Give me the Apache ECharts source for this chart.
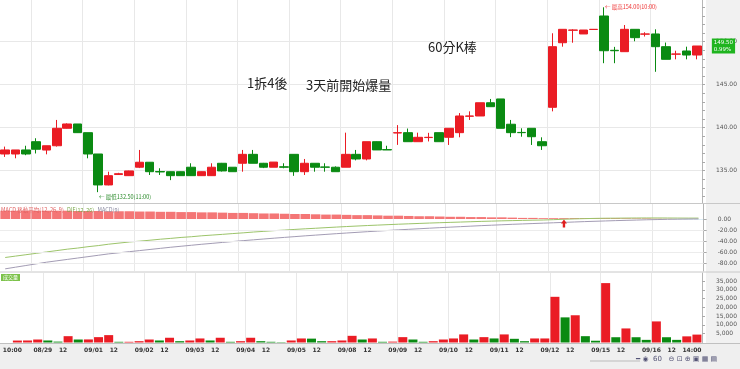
<!DOCTYPE html>
<html><head><meta charset="utf-8">
<script src="https://cdn.jsdelivr.net/npm/echarts@6/dist/echarts.min.js"></script>
<style>html,body{margin:0;padding:0;background:#fff;overflow:hidden}#c{width:740px;height:369px}</style>
</head><body><div id="c"></div><script>
// ---- data ----
const dayLabels = ['08/29','09/01','09/02','09/03','09/04','09/05','09/08','09/09','09/10','09/11','09/12','09/15','09/16'];
const noonLabel = '12';
const firstLabel = '10:00';
const lastLabel = '14:00';
const priceTicks = [135, 140, 145, 150];
const macdTicks = [0, -20, -40, -60, -80];
const volTicks = [5000, 10000, 15000, 20000, 25000, 30000, 35000];
const priceTagText = '149.50\n0.99%';

const opens  = [136.94,136.94,137.41,138.37,137.40,137.90,139.93,140.43,139.42,136.94,133.34,134.55,134.42,135.40,135.98,134.90,134.88,134.88,135.40,134.42,134.42,135.86,135.40,135.86,136.90,135.86,135.40,135.45,136.90,134.88,135.86,135.43,135.40,135.40,136.90,136.36,138.37,137.45,139.38,139.42,138.37,138.85,139.42,138.88,139.42,141.33,141.36,142.90,143.34,140.40,139.45,139.93,138.37,142.37,149.88,151.33,150.90,151.42,152.99,149.00,148.84,151.44,150.88,150.90,149.42,148.55,148.92,148.45];
const closes = [137.41,137.41,136.94,137.49,137.90,139.93,140.43,139.42,136.94,133.34,134.42,134.65,134.97,135.98,134.88,134.85,134.42,134.42,134.42,134.88,135.40,134.97,134.88,136.90,135.86,135.40,136.00,135.40,134.88,135.86,135.40,135.40,134.88,136.90,136.36,138.37,137.41,137.41,139.42,138.37,138.88,138.88,138.37,139.93,141.36,141.36,142.90,142.44,139.93,139.42,139.42,138.95,137.90,149.42,151.44,151.36,151.36,151.44,148.95,148.95,151.44,150.47,150.90,149.42,147.95,148.57,148.45,149.50];
const lows   = [136.60,136.44,136.80,137.00,136.90,137.80,139.90,139.40,136.44,132.50,133.30,134.50,134.40,135.30,134.50,134.50,133.90,134.42,134.40,134.40,134.40,134.90,134.88,134.88,135.86,135.30,135.40,135.28,134.40,134.50,134.88,134.88,134.88,135.40,136.20,136.20,137.41,137.41,138.00,138.37,138.37,138.40,138.37,137.99,138.88,140.90,141.36,142.44,139.93,138.90,138.95,137.99,137.41,141.90,149.42,149.88,150.90,151.44,147.50,147.50,148.84,150.05,150.60,146.50,147.95,147.95,147.95,147.95];
const highs  = [137.80,137.41,137.90,138.77,137.90,140.90,140.50,140.43,139.42,136.94,134.88,134.75,135.00,137.41,136.00,135.28,134.90,134.90,135.86,134.90,135.86,135.90,135.40,137.41,137.41,135.90,136.00,135.86,136.90,136.36,135.86,135.86,135.50,139.42,137.41,138.37,138.40,137.90,140.30,139.90,139.42,139.40,139.42,139.93,141.70,141.90,142.90,143.34,143.34,140.90,139.93,139.93,138.88,150.98,151.44,151.44,151.36,151.44,154.00,149.40,151.94,151.44,151.10,151.44,149.90,148.95,149.42,149.50];
const volumes = [1100,1150,1700,1150,500,3600,1700,1750,3050,4200,400,400,750,1700,1150,2700,750,1150,2300,1150,2700,400,750,2700,750,400,200,1150,2300,2200,750,750,1150,3800,1700,2300,400,500,3050,1700,400,750,1700,2300,4600,1700,3050,2300,4600,2100,750,2300,2300,26000,14300,15500,3600,1000,33800,3000,8000,3000,1500,12000,3000,1500,3500,4500];
const difs = [-69.5,-67,-64.5,-62,-59.5,-57,-54.5,-52.5,-50,-48,-45.5,-43.5,-41.5,-40,-38.3,-36.5,-35,-33.3,-32,-30.3,-29,-27.7,-26.3,-25,-23.5,-22.3,-21,-20,-18.8,-17.7,-16.7,-15.6,-14.6,-13.6,-12.7,-11.8,-11,-10.2,-9.4,-8.7,-8,-7.3,-6.7,-6.1,-5.5,-4.9,-4.3,-3.8,-3.3,-2.9,-2.5,-2.1,-1.8,-1.2,-0.4,0.2,0.7,1.1,1.4,1.5,1.7,1.8,1.9,1.9,1.8,1.7,1.6,1.6];
const deas = [-90,-87,-84,-81,-78,-75.5,-73,-70.5,-68,-65.5,-63,-61,-59,-57,-55,-53,-51,-49.2,-47.4,-45.6,-44,-42.3,-40.7,-39.1,-37.6,-36.1,-34.6,-33.2,-31.8,-30.4,-29.1,-27.8,-26.5,-25.3,-24.1,-22.9,-21.8,-20.7,-19.6,-18.6,-17.6,-16.6,-15.6,-14.7,-13.8,-12.9,-12,-11.2,-10.4,-9.6,-8.9,-8.2,-7.5,-6.8,-6.1,-5.4,-4.7,-4.1,-3.5,-2.9,-2.4,-1.9,-1.4,-1,-0.6,-0.3,0,0.2];
const oscs = [15,15,15,15,15,15,15,14.5,14.5,14.5,14,14,14,13.5,13.5,13,13,12.5,12.5,12,12,11.5,11,11,10.5,10,10,9.5,9,9,8.5,8,8,7.5,7,7,6.5,6,6,5.5,5,5,4.5,4,4,3.5,3.5,3,3,2.5,2,2,1.5,1.5,1.5,1.5,1.5,1.5,1.5,1.5,1.2,1,1,0.5,0.3,-0.3,-0.5,-0.5];

// ---- build ----
const RED = '#ea1c24', GREEN = '#0a8a12';
const N = opens.length;
const dayStarts = [];
const xLabels = new Array(N).fill('');
xLabels[0] = firstLabel;
dayLabels.forEach((d, k) => { const s = 3 + 5 * k; dayStarts.push(s); if (s < N) xLabels[s] = d; if (s + 2 < N) xLabels[s + 2] = noonLabel; });
xLabels[N - 1] = lastLabel;
const candleData = opens.map((o, i) => [o, closes[i], lows[i], highs[i]]);
const volData = volumes.map((v, i) => ({ value: v, itemStyle: { color: (i === 0 || v >= volumes[i - 1]) ? RED : GREEN } }));
const oscData = oscs.map(v => ({ value: v, itemStyle: { color: v >= 0 ? '#f47676' : '#86c3e3' } }));
const priceMinor = []; for (let p = 132; p <= 154; p++) priceMinor.push(p);
const lowIdx = lows.indexOf(Math.min(...lows));
const highIdx = highs.indexOf(Math.max(...highs));
const lastClose = closes[N - 1];

const G = { left: -4.2, right: 33.8 };
const gridLine = { color: '#e8e8e8', width: 1 };
function xAx(i, showLabel) {
  return {
    type: 'category', gridIndex: i, data: xLabels, boundaryGap: true,
    axisLine: { show: false }, axisTick: { show: false },
    axisLabel: showLabel ? {
      show: true, interval: 0, fontSize: 6, fontWeight: 'bold', color: '#333',
      fontFamily: 'DejaVu Sans', margin: 5, padding: [0, 10, 0, 0]
    } : { show: false },
    splitLine: { show: true, interval: (idx) => dayStarts.includes(idx), lineStyle: gridLine }
  };
}
const yLabel = { fontSize: 6, color: '#555', fontFamily: 'DejaVu Sans', margin: 14 };
const option = {
  animation: false,
  backgroundColor: '#ffffff',
  grid: [
    Object.assign({ top: 0, height: 203 }, G),
    Object.assign({ top: 204, height: 67 }, G),
    Object.assign({ top: 273, height: 69.5 }, G)
  ],
  xAxis: [xAx(0, false), xAx(1, false), xAx(2, true)],
  yAxis: [
    { type: 'value', gridIndex: 0, position: 'right', min: 131.24, max: 154.85, scale: true,
      axisLine: { show: true, lineStyle: { color: '#b5b5b5' } },
      axisTick: { show: true, customValues: priceMinor, length: 3, lineStyle: { color: '#aaa' } },
      axisLabel: Object.assign({ customValues: priceTicks, formatter: v => v.toFixed(2) }, yLabel),
      splitLine: { show: false } },
    { type: 'value', gridIndex: 1, position: 'right', min: -93.9, max: 27.1,
      axisLine: { show: true, lineStyle: { color: '#b5b5b5' } },
      axisTick: { show: true, customValues: macdTicks, length: 3, lineStyle: { color: '#aaa' } },
      axisLabel: Object.assign({ customValues: macdTicks, formatter: v => v.toFixed(2) }, yLabel),
      splitLine: { show: false } },
    { type: 'value', gridIndex: 2, position: 'right', min: 0, max: 39550,
      axisLine: { show: true, lineStyle: { color: '#b5b5b5' } },
      axisTick: { show: true, customValues: volTicks, length: 3, lineStyle: { color: '#aaa' } },
      axisLabel: Object.assign({ customValues: volTicks, formatter: v => v.toLocaleString('en-US') }, yLabel),
      splitLine: { show: false } }
  ],
  series: [
    { type: 'candlestick', xAxisIndex: 0, yAxisIndex: 0, data: candleData, barWidth: 9,
      itemStyle: { color: RED, color0: GREEN, borderColor: RED, borderColor0: GREEN, borderWidth: 1 },
      markLine: { silent: true, symbol: 'none', z: 0, label: { show: false },
        lineStyle: { color: '#e8e8e8', type: 'solid', width: 1 },
        data: priceTicks.map(v => ({ yAxis: v })) },
      markPoint: { silent: true, symbol: 'circle', symbolSize: 0, z: 20,
        data: [
          { coord: [highIdx, highs[highIdx]], label: { show: true, position: 'right', distance: 1, formatter: '← 最高' + highs[highIdx].toFixed(2) + '(10:00)', color: '#e33', fontSize: 5.5, fontFamily: 'Noto Sans CJK TC' } },
          { coord: [lowIdx, lows[lowIdx]], label: { show: true, position: 'right', distance: 1, offset: [0, 5], formatter: '← 最低' + lows[lowIdx].toFixed(2) + '(11:00)', color: '#2a8a2a', fontSize: 5.5, fontFamily: 'Noto Sans CJK TC' } },
          { coord: [N - 1, lastClose], label: { show: true, position: 'right', distance: 15, formatter: priceTagText,
              backgroundColor: '#1fb41f', color: '#fff', fontSize: 5.5, lineHeight: 6.5, padding: [1, 2], fontFamily: 'DejaVu Sans' } }
        ] }
    },
    { type: 'bar', xAxisIndex: 1, yAxisIndex: 1, data: oscData, barWidth: 9.6,
      markLine: { silent: true, symbol: 'none', data: macdTicks.slice(1).map(v => ({ yAxis: v })), lineStyle: { color: '#ececec', type: 'solid', width: 1 }, label: { show: false } },
      markPoint: { silent: true, data: [{ coord: [54, -8] }], symbol: 'path://M5,0 L10,5 L7,5 L7,10 L3,10 L3,5 L0,5 Z', symbolSize: [6, 8], itemStyle: { color: '#e02020' }, label: { show: false } } },
    { type: 'line', xAxisIndex: 1, yAxisIndex: 1, data: difs, symbol: 'none', lineStyle: { color: '#9cc46a', width: 1 } },
    { type: 'line', xAxisIndex: 1, yAxisIndex: 1, data: deas, symbol: 'none', lineStyle: { color: '#a39cb4', width: 1 } },
    { type: 'bar', xAxisIndex: 2, yAxisIndex: 2, data: volData, barWidth: 9 }
  ],
  graphic: [
    { type: 'rect', left: 706, top: 0, shape: { width: 34, height: 344 }, style: { fill: '#f1f1f1' }, z: -10, silent: true },
    { type: 'rect', left: 0, top: 344, shape: { width: 740, height: 25 }, style: { fill: '#efefef' }, z: -10, silent: true },
    { type: 'line', shape: { x1: 0, y1: 203.5, x2: 740, y2: 203.5 }, style: { stroke: '#c8c8c8', lineWidth: 1 }, z: 5, silent: true },
    { type: 'line', shape: { x1: 0, y1: 272, x2: 740, y2: 272 }, style: { stroke: '#c8c8c8', lineWidth: 1 }, z: 5, silent: true },
    { type: 'line', shape: { x1: 0, y1: 343.5, x2: 740, y2: 343.5 }, style: { stroke: '#c0c0c0', lineWidth: 1 }, z: 5, silent: true },
    { type: 'text', left: 247, top: 77, style: { text: '1拆4後', font: '13px "Noto Sans CJK TC"', fill: '#222' }, z: 10 },
    { type: 'text', left: 306, top: 79, style: { text: '3天前開始爆量', font: '13px "Noto Sans CJK TC"', fill: '#222' }, z: 10 },
    { type: 'text', left: 428, top: 41, style: { text: '60分K棒', font: '13px "Noto Sans CJK TC"', fill: '#222' }, z: 10 },
    { type: 'text', left: 1, top: 204, z: 10, style: { rich: { a: { fill: '#e06060', font: '5.5px "Noto Sans CJK TC"' }, b: { fill: '#7aa84a', font: '5.5px "Noto Sans CJK TC"' }, c: { fill: '#8a8aa0', font: '5.5px "Noto Sans CJK TC"' } }, text: '{a|MACD 移動平均(12, 26, 9)} {b|DIF(12, 26)} {c|MACD(9)}' } },
    { type: 'text', left: 1, top: 274, z: 10, style: { text: '成交量', font: '5px "Noto Sans CJK TC"', fill: '#fff', backgroundColor: '#7cc24a', padding: [1, 2] } },
    { type: 'line', shape: { x1: 590, y1: 361, x2: 640, y2: 361 }, style: { stroke: '#bbb', lineWidth: 1 }, silent: true },
    { type: 'text', left: 636, top: 356, style: { text: '━ ◉  60   ⊖ ⊡ ⊕ ▣ ▦ ▤', font: '7px "DejaVu Sans"', fill: '#557' }, silent: true }
  ]
};
const chart = echarts.init(document.getElementById('c'));
chart.setOption(option);
</script></body></html>
